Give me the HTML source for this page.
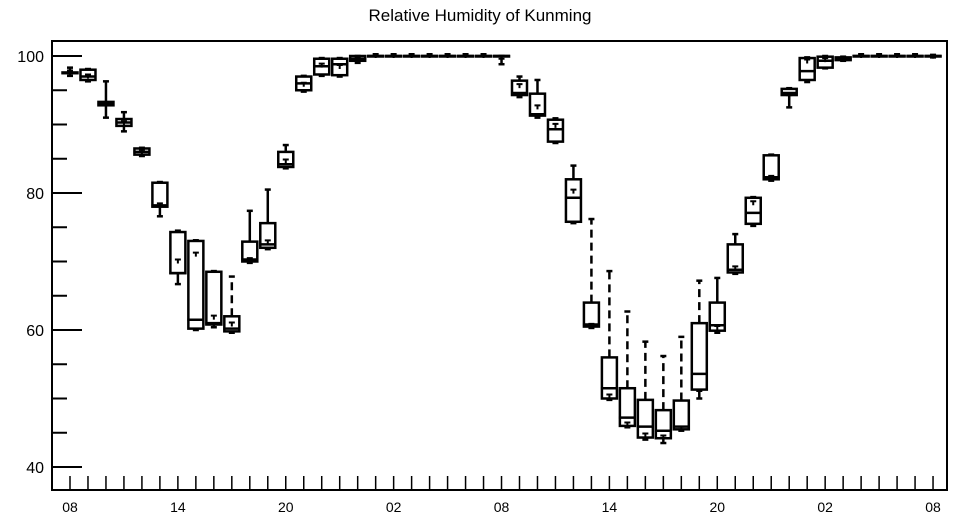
<!DOCTYPE html>
<html><head><meta charset="utf-8"><style>
body{margin:0;background:#fff;}
svg{display:block;font-family:"Liberation Sans",sans-serif;}
</style></head><body>
<svg id="chart" width="957" height="520" viewBox="0 0 957 520">
<text x="480" y="21" text-anchor="middle" font-size="17">Relative Humidity of Kunming</text>
<rect x="52" y="41" width="895" height="449" fill="none" stroke="#000" stroke-width="2"/>
<g id="yaxis"></g>
<g id="xaxis"></g>
<g id="boxes"></g>
</svg>
<script>
const hourLabels = ["08","14","20","02","08","14","20","02","08"];
const yTicks = [40,60,80,100];
const lows   = [97.1,96.3,91,89,85.4,76.6,66.7,60,60.4,59.6,69.8,71.8,83.6,94.8,97.1,97,99,100,100,100,100,100,100,100,98.8,94,91,87.3,75.6,60.3,49.8,45.8,44,43.5,45.3,50,59.6,68.2,75.2,81.8,92.5,96.2,98.2,99.3,100,100,100,100,99.8];
const q1s    = [97.5,96.5,92.8,89.8,85.6,78,68.3,60.2,60.8,59.8,70,72,83.8,95,97.3,97.2,99.3,100,100,100,100,100,100,100,100,94.3,91.3,87.5,75.8,60.5,50,46,44.3,44.2,45.5,51.3,59.9,68.4,75.5,82,94.3,96.5,98.3,99.4,100,100,100,100,100];
const medians= [97.5,97,93,90.3,86,78.2,68.3,61.5,61,60.2,70.3,72.5,84.2,96,98.5,98.8,99.6,100,100,100,100,100,100,100,100,94.6,91.5,89.3,79.3,60.8,51.5,47.2,45.9,45.3,45.9,53.6,60.7,68.8,77.1,82.3,94.6,97.8,99.3,99.6,100,100,100,100,100];
const q3s    = [97.6,98,93.3,90.8,86.5,81.5,74.3,73,68.5,62,72.9,75.6,86,97,99.6,99.6,100,100,100,100,100,100,100,100,100,96.4,94.5,90.7,82,64,56,51.5,49.8,48.3,49.7,61,64,72.5,79.3,85.5,95.2,99.7,99.9,99.8,100,100,100,100,100];
const highs  = [98.3,98.1,96.3,91.8,86.6,81.6,74.5,73.1,68.6,67.8,77.4,80.5,87,97.1,99.7,99.7,100,100,100,100,100,100,100,100,100,97,96.5,90.9,84,76.2,68.6,62.7,58.3,56.2,59,67.2,67.6,74,79.4,85.6,95.3,99.8,100,99.9,100,100,100,100,100];
const means  = [97.6,97,92.6,90.2,86,78.2,70,71,61.8,60.8,70.2,72.8,84.6,95.8,98.6,98.4,99.5,100,100,100,100,100,100,100,99.3,95.6,92.5,89.8,80.2,60.6,50.3,46.2,44.6,44.3,45.6,50.8,60.3,69,78.5,82.2,94,99.2,99.4,99.5,100,100,100,100,99.9];

const NS="http://www.w3.org/2000/svg";
const X0=70, DX=17.98, Y100=56, PPU=6.85;
function xs(i){return X0+i*DX;}
function ys(v){return Y100+(100-v)*PPU;}
function mk(tag,attrs,parent){const e=document.createElementNS(NS,tag);for(const k in attrs)e.setAttribute(k,attrs[k]);parent.appendChild(e);return e;}

const ya=document.getElementById('yaxis');
for(let v=40;v<=100;v+=5){
  const major=yTicks.includes(v);
  const t=mk('line',{x1:52,x2:major?82:67,y1:ys(v),y2:ys(v),stroke:'#000','stroke-width':2},ya);
  
  
}
yTicks.forEach(v=>{
  const t=mk('text',{x:44,y:ys(v)+6,'text-anchor':'end','font-size':16},ya);
  t.textContent=v;
  
  
});
const xa=document.getElementById('xaxis');
for(let i=0;i<49;i++){
  const t=mk('line',{x1:xs(i),x2:xs(i),y1:476,y2:490,stroke:'#000','stroke-width':1.5},xa);
  
  
}
hourLabels.forEach((l,k)=>{
  const t=mk('text',{x:xs(k*6),y:512,'text-anchor':'middle','font-size':14},xa);
  t.textContent=l;
  
  
});
const bx=document.getElementById('boxes');
const W=7.5;
for(let i=0;i<lows.length;i++){
  const g=mk('g',{stroke:'#000','stroke-width':2.5,fill:'none'},bx);
  
  
  const x=xs(i);
  const dash=(q1s[i]-lows[i]>5||highs[i]-q3s[i]>5)?'8,5':'none';
  mk('line',{x1:x,x2:x,y1:ys(q3s[i]),y2:ys(highs[i]),'stroke-dasharray':dash},g);
  mk('line',{x1:x,x2:x,y1:ys(q1s[i]),y2:ys(lows[i]),'stroke-dasharray':dash},g);
  mk('line',{x1:x-3,x2:x+3,y1:ys(highs[i]),y2:ys(highs[i])},g);
  mk('line',{x1:x-3,x2:x+3,y1:ys(lows[i]),y2:ys(lows[i])},g);
  const h=Math.max(ys(q1s[i])-ys(q3s[i]),0.5);
  mk('rect',{x:x-W,y:ys(q3s[i]),width:2*W,height:h},g);
  mk('line',{x1:x-W-1,x2:x+W+1,y1:ys(medians[i]),y2:ys(medians[i])},g);
  const my=ys(means[i]);
  mk('path',{d:`M${x-3},${my-2}L${x+3},${my-2}M${x},${my-2}L${x},${my+2}`,'stroke-width':2},g);
}
</script>
</body></html>
